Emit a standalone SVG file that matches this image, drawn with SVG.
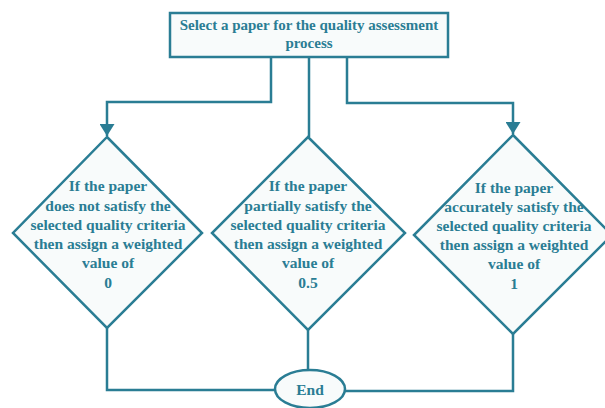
<svg xmlns="http://www.w3.org/2000/svg" width="605" height="408" viewBox="0 0 605 408">
<defs>
<style>
.shape{fill:#f8fbfb;stroke:#2a7d94;stroke-width:2.5}
.conn{fill:none;stroke:#2a7d94;stroke-width:2.5}
text{font-family:"Liberation Serif","Times New Roman",serif;font-weight:bold;font-size:15.5px;fill:#2a7d94;text-anchor:middle}
.t{font-size:15px}
</style>
<marker id="arr" viewBox="0 0 12 15" refX="12" refY="7.5" markerWidth="12" markerHeight="15" markerUnits="userSpaceOnUse" orient="auto">
<path d="M0,0 L12,7.5 L0,15 Z" fill="#2a7d94"/>
</marker>
</defs>
<rect width="605" height="408" fill="#ffffff"/>
<g id="connectors">
<path class="conn" d="M271,57 V102 H107 V136" marker-end="url(#arr)"/>
<path class="conn" d="M309,57 V137"/>
<path class="conn" d="M347,57 V103 H513 V134" marker-end="url(#arr)"/>
<path class="conn" d="M107,328 V390 H275"/>
<path class="conn" d="M308,330 V370"/>
<path class="conn" d="M513,334 V391 H345"/>
</g>
<g id="start">
<rect class="shape" x="170" y="13" width="278" height="44"/>
<text class="t" x="309" y="30">Select a paper for the quality assessment</text>
<text class="t" x="309" y="48">process</text>
</g>
<g id="d0">
<polygon class="shape" points="107,137 202,233 107,328 13,233"/>
<text x="108" y="191">If the paper</text>
<text x="108" y="211">does not satisfy the</text>
<text x="108" y="230">selected quality criteria</text>
<text x="108" y="249">then assign a weighted</text>
<text x="108" y="268">value of</text>
<text x="108" y="288">0</text>
</g>
<g id="d05">
<polygon class="shape" points="308,137 405,233 308,330 212,233"/>
<text x="308" y="191">If the paper</text>
<text x="308" y="211">partially satisfy the</text>
<text x="308" y="230">selected quality criteria</text>
<text x="308" y="249">then assign a weighted</text>
<text x="308" y="268">value of</text>
<text x="308" y="288">0.5</text>
</g>
<g id="d1">
<polygon class="shape" points="513,135 612,235 513,334 414,235"/>
<text x="514" y="193">If the paper</text>
<text x="514" y="212">accurately satisfy the</text>
<text x="514" y="231">selected quality criteria</text>
<text x="514" y="250">then assign a weighted</text>
<text x="514" y="269">value of</text>
<text x="514" y="289">1</text>
</g>
<g id="end">
<ellipse class="shape" cx="310" cy="389" rx="35" ry="19"/>
<text x="310" y="395">End</text>
</g>
</svg>
